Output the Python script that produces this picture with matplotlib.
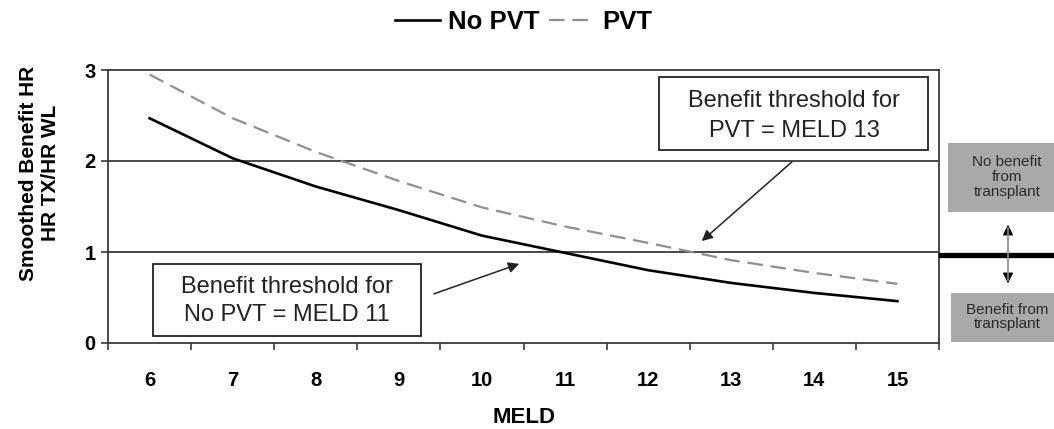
import matplotlib
matplotlib.use("Agg")
import matplotlib.pyplot as plt
from matplotlib.patches import Rectangle
from matplotlib.lines import Line2D

plt.rcParams['font.family'] = ['Liberation Sans', 'DejaVu Sans']

# Data
meld = [6, 7, 8, 9, 10, 11, 12, 13, 14, 15]
hr_no_pvt = [2.47, 2.03, 1.72, 1.46, 1.18, 0.99, 0.80, 0.66, 0.55, 0.46]
hr_pvt = [2.95, 2.47, 2.10, 1.78, 1.49, 1.28, 1.10, 0.91, 0.77, 0.65]
y_ticks = [0, 1, 2, 3]

W, H = 1054, 429
fig = plt.figure(figsize=(W / 100, H / 100), dpi=100)
ax = fig.add_axes([108 / W, 1 - 343 / H, 831 / W, 273 / H])


def fx(px):
    return px / W


def fy(py):
    return 1 - py / H


# gridlines at 1 and 2
for v in y_ticks[1:3]:
    ax.axhline(v, color='#3a3a3a', lw=1.3, zorder=1)

ax.plot(meld, hr_no_pvt, color='black', lw=1.9, label='No PVT', zorder=3)
ax.plot(meld, hr_pvt, color='#8f8f8f', lw=1.6, dashes=(7, 3.5), label='PVT', zorder=3)

ax.set_xlim(5.5, 15.5)
ax.set_ylim(0, 3)
ax.set_xticks([m - 0.5 for m in meld] + [15.5])
ax.set_xticklabels([])
ax.set_xticks(meld, minor=True)
ax.set_xticklabels([str(m) for m in meld], minor=True)
ax.tick_params(axis='x', which='major', direction='out', length=5, width=1.2, color='#3a3a3a')
ax.tick_params(axis='x', which='minor', length=0, pad=20, labelsize=14.5)
ax.set_yticks(y_ticks)
ax.tick_params(axis='y', direction='out', length=5, width=1.2, color='#3a3a3a', labelsize=14.5, pad=4)
for lab in ax.get_xticklabels(minor=True) + ax.get_yticklabels():
    lab.set_fontweight('bold')
for sp in ax.spines.values():
    sp.set_color('#3a3a3a')
    sp.set_linewidth(1.3)

ax.set_xlabel('MELD', fontsize=16, fontweight='bold')
ax.xaxis.set_label_coords(0.5, -(407 - 343) / 273)
ax.set_ylabel('Smoothed Benefit HR\nHR TX/HR WL', fontsize=15, fontweight='bold', linespacing=1.2)
ax.yaxis.set_label_coords((60 - 108) / 831, (343 - 173) / 273)

# annotation boxes (data coordinates)
ax.add_patch(Rectangle((12.13, 2.12), 3.24, 0.80, fill=True, facecolor='white',
                       edgecolor='#222222', lw=1.3, zorder=4))
ax.text(13.755, 2.66, 'Benefit threshold for', ha='center', va='center', fontsize=17, zorder=5, color='#222222')
ax.text(13.755, 2.33, 'PVT = MELD 13', ha='center', va='center', fontsize=17, zorder=5, color='#222222')
ax.annotate('', xy=(12.62, 1.10), xytext=(13.755, 2.01),
            arrowprops=dict(arrowstyle='-|>', color='#222222', lw=1.1, mutation_scale=16), zorder=5)

ax.add_patch(Rectangle((6.04, 0.077), 3.23, 0.79, fill=True, facecolor='white',
                       edgecolor='#222222', lw=1.3, zorder=4))
ax.text(7.65, 0.615, 'Benefit threshold for', ha='center', va='center', fontsize=17, zorder=5, color='#222222')
ax.text(7.65, 0.305, 'No PVT = MELD 11', ha='center', va='center', fontsize=17, zorder=5, color='#222222')
ax.annotate('', xy=(10.48, 0.88), xytext=(9.39, 0.53),
            arrowprops=dict(arrowstyle='-|>', color='#222222', lw=1.1, mutation_scale=16), zorder=5)

# right-hand key outside the axes (figure coordinates)
fig.add_artist(Rectangle((fx(948), fy(212)), fx(120), fy(143) - fy(212),
                         transform=fig.transFigure, facecolor='#a9a9a9', edgecolor='none'))
fig.text(fx(1007), fy(177), 'No benefit\nfrom\ntransplant', ha='center', va='center',
         fontsize=11, color='#2a2a2a', linespacing=1.05)
fig.add_artist(Rectangle((fx(951), fy(342)), fx(120), fy(293) - fy(342),
                         transform=fig.transFigure, facecolor='#a9a9a9', edgecolor='none'))
fig.text(fx(1007), fy(317), 'Benefit from\ntransplant', ha='center', va='center',
         fontsize=11, color='#2a2a2a', linespacing=1.05)
fig.add_artist(Line2D([fx(941), fx(1054)], [fy(255), fy(255)], transform=fig.transFigure,
                      color='black', lw=3.8))
fig.add_artist(Line2D([fx(1008), fx(1008)], [fy(228), fy(280)], transform=fig.transFigure,
                      color='#8a8a8a', lw=1.2))
ax.annotate('', xy=(fx(1008), fy(222)), xytext=(fx(1008), fy(234)), xycoords='figure fraction',
            textcoords='figure fraction', arrowprops=dict(arrowstyle='-|>', color='black', lw=0.8, mutation_scale=16))
ax.annotate('', xy=(fx(1008), fy(286)), xytext=(fx(1008), fy(274)), xycoords='figure fraction',
            textcoords='figure fraction', arrowprops=dict(arrowstyle='-|>', color='black', lw=0.8, mutation_scale=16))

leg = ax.legend(loc='center', bbox_to_anchor=(0.5, (343 - 22) / 273), ncol=2, frameon=False,
                prop={'size': 18.5, 'weight': 'bold'}, handlelength=1.75, handletextpad=0.3,
                columnspacing=0.4, borderaxespad=0)

fig.savefig('out.png', dpi=100)
